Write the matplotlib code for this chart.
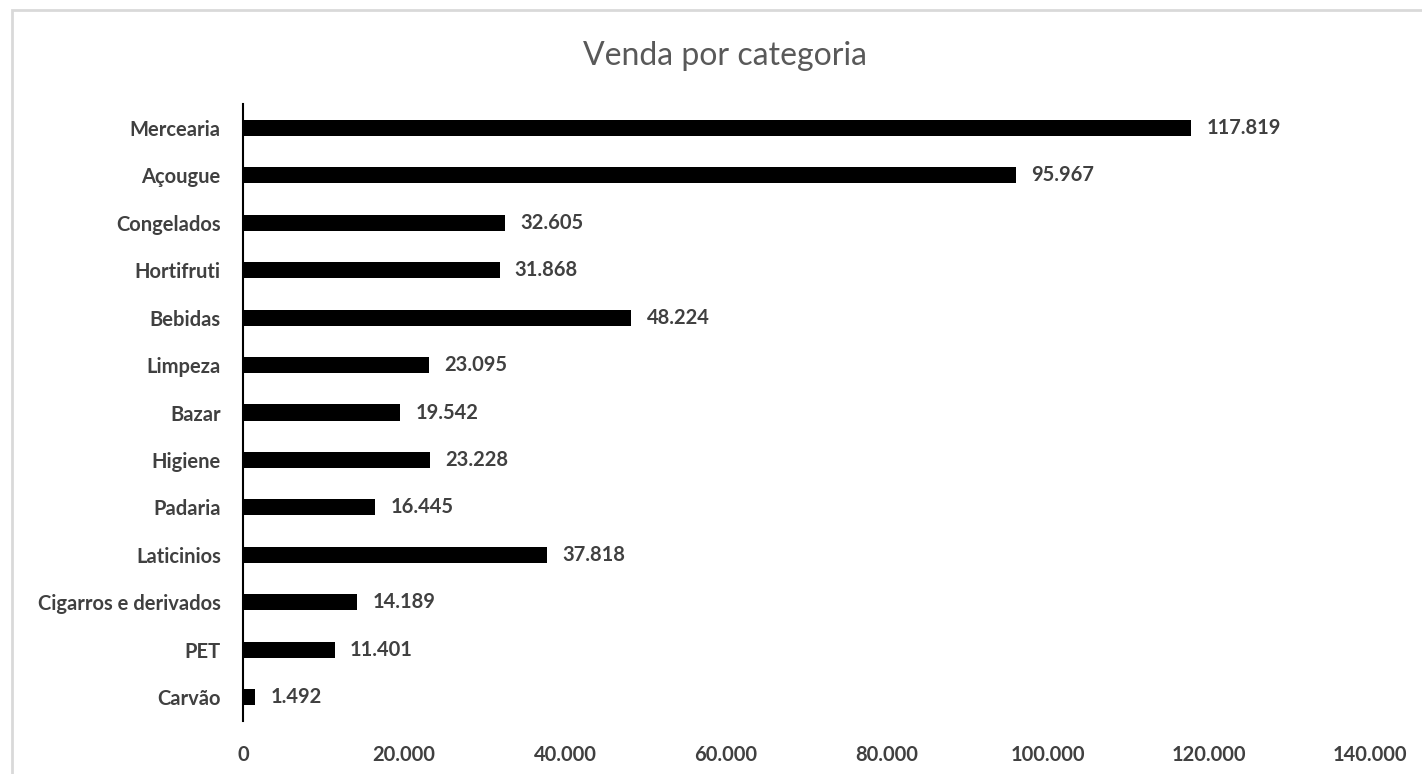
import matplotlib.pyplot as plt
from matplotlib.patches import Rectangle
from matplotlib.ticker import FuncFormatter

categorias = ['Mercearia', 'Açougue', 'Congelados', 'Hortifruti', 'Bebidas',
              'Limpeza', 'Bazar', 'Higiene', 'Padaria', 'Laticinios',
              'Cigarros e derivados', 'PET', 'Carvão']
vendas = [117819, 95967, 32605, 31868, 48224, 23095, 19542, 23228, 16445,
          37818, 14189, 11401, 1492]
x_ticks = [0, 20000, 40000, 60000, 80000, 100000, 120000, 140000]


def fmt_br(v):
    return f'{int(round(v)):,}'.replace(',', '.')


plt.rcParams['font.family'] = ['Lato', 'DejaVu Sans']
text_color = '#404040'

fig = plt.figure(figsize=(14.22, 7.74), dpi=100)
ax = fig.add_axes([0.1709, 0.0685, 0.7925, 0.7971])

pos = list(range(len(categorias)))
ax.barh(pos, vendas, height=0.34, color='black')
ax.set_ylim(len(categorias) - 0.5, -0.5)
ax.set_xlim(0, 140000)
ax.set_yticks(pos)
ax.set_yticklabels(categorias)
ax.set_xticks(x_ticks)
ax.xaxis.set_major_formatter(FuncFormatter(lambda v, p: fmt_br(v)))

for i, v in enumerate(vendas):
    ax.annotate(fmt_br(v), (v, i), xytext=(11, 0), textcoords='offset points',
                va='center', ha='left', fontsize=14.5, color=text_color,
                fontweight='bold')

ax.tick_params(axis='y', length=0, pad=16, labelsize=14.5, labelcolor=text_color)
ax.tick_params(axis='x', length=0, pad=17, labelsize=14.5, labelcolor=text_color)
for lab in ax.get_yticklabels() + ax.get_xticklabels():
    lab.set_fontweight('bold')

for s in ['top', 'right', 'bottom']:
    ax.spines[s].set_visible(False)
ax.spines['left'].set_color('black')
ax.spines['left'].set_linewidth(1.5)

fig.text(0.51, 0.928, 'Venda por categoria', ha='center', va='center',
         fontsize=23, color='#595959')

# chart area border (only top/left visible in the crop)
fig.patches.append(Rectangle((12 / 1422, -0.1), 1.2, 1 - 10 / 774 + 0.1,
                             transform=fig.transFigure, fill=False,
                             edgecolor='#d9d9d9', linewidth=2))

fig.savefig('out.png', dpi=100)
